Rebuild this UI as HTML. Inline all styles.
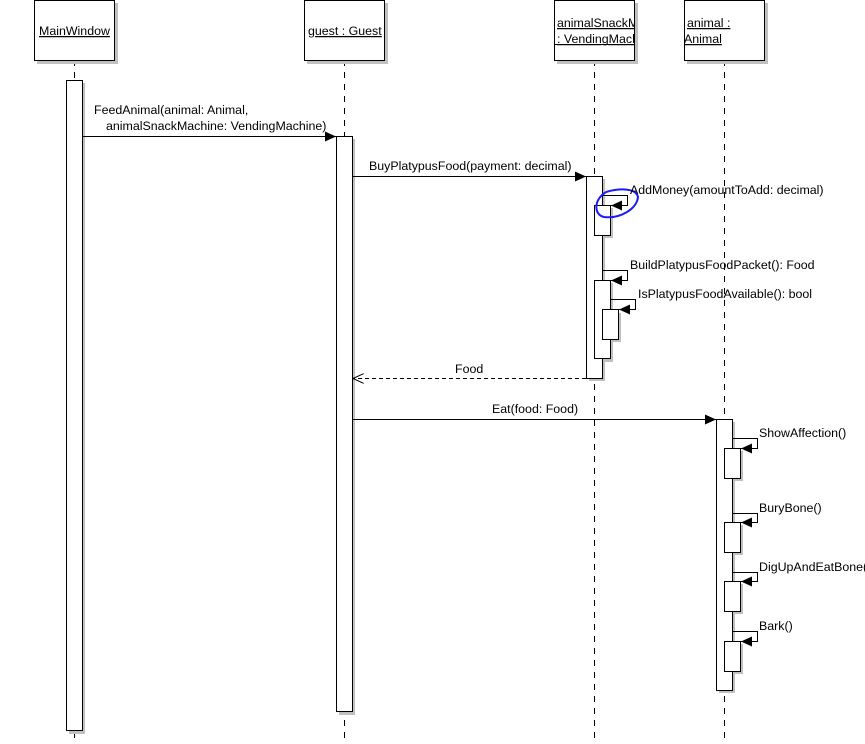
<!DOCTYPE html>
<html><head><meta charset="utf-8"><style>
html,body{margin:0;padding:0;background:#fff;}
svg{display:block;}
text{font-family:"Liberation Sans",Arial,sans-serif;font-size:12.4px;fill:#000;}
</style></head><body>
<svg width="865" height="744" viewBox="0 0 865 744" xmlns="http://www.w3.org/2000/svg">
<defs>
<marker id="f" markerWidth="12" markerHeight="10" refX="11" refY="5" orient="auto" markerUnits="userSpaceOnUse"><path d="M0,0 L11,5 L0,10 z" fill="#000"/></marker>
<marker id="o" markerWidth="12" markerHeight="10" refX="11" refY="5" orient="auto" markerUnits="userSpaceOnUse"><path d="M0,0 L11,5 L0,10" fill="none" stroke="#000"/></marker>
</defs>
<g stroke="#000" stroke-width="1" stroke-dasharray="6,6">
<line x1="74.5" y1="60" x2="74.5" y2="744"/>
<line x1="344.5" y1="60" x2="344.5" y2="744"/>
<line x1="594.5" y1="60" x2="594.5" y2="744"/>
<line x1="724.5" y1="60" x2="724.5" y2="744"/>
</g>
<g fill="#c0c0c0">
<rect x="37" y="3" width="81" height="61"/><rect x="307" y="3" width="81" height="61"/>
<rect x="557" y="3" width="81" height="61"/><rect x="687" y="3" width="81" height="61"/>
</g>
<g fill="#fff" stroke="#000">
<rect x="34.5" y="0.5" width="80" height="60"/><rect x="304.5" y="0.5" width="80" height="60"/>
<rect x="554.5" y="0.5" width="80" height="60"/><rect x="684.5" y="0.5" width="80" height="60"/>
</g>
<line x1="554" y1="44.5" x2="634" y2="44.5" stroke="#000"/>
<text x="39" y="35" text-decoration="underline">MainWindow</text>
<text x="308" y="35" text-decoration="underline">guest : Guest</text>
<svg x="555" y="0" width="79" height="60"><text x="2" y="27" text-decoration="underline">animalSnackMachine</text><text x="2" y="43" text-decoration="underline">: VendingMachine</text></svg>
<svg x="685" y="0" width="79" height="60"><text x="2" y="27" text-decoration="underline">animal :</text><text x="-1" y="43" text-decoration="underline">Animal</text></svg>
<g fill="#c0c0c0">
<rect x="69" y="83" width="16" height="651"/>
<rect x="339" y="139" width="16" height="576"/>
<rect x="589" y="179" width="16" height="202"/>
<rect x="597" y="208" width="16" height="30"/>
<rect x="597" y="283" width="16" height="79"/>
<rect x="605" y="313" width="16" height="29"/>
<rect x="719" y="422" width="16" height="271"/>
<rect x="727" y="451" width="16" height="30"/>
<rect x="727" y="525" width="16" height="30"/>
<rect x="727" y="584" width="16" height="30"/>
<rect x="727" y="644" width="16" height="30"/>
</g>
<g fill="#fff" stroke="#000">
<rect x="66.5" y="80.5" width="16" height="650"/>
<rect x="336.5" y="136.5" width="16" height="575"/>
<rect x="586.5" y="176.5" width="16" height="202"/>
<rect x="594.5" y="205.5" width="16" height="30"/>
<rect x="594.5" y="280.5" width="16" height="78"/>
<rect x="602.5" y="309.5" width="16" height="30"/>
<rect x="716.5" y="419.5" width="16" height="271"/>
<rect x="724.5" y="448.5" width="16" height="30"/>
<rect x="724.5" y="522.5" width="16" height="30"/>
<rect x="724.5" y="581.5" width="16" height="30"/>
<rect x="724.5" y="641.5" width="16" height="30"/>
</g>
<g stroke="#000" fill="none">
<line x1="83" y1="136.5" x2="336" y2="136.5" marker-end="url(#f)"/>
<line x1="353" y1="176.5" x2="586" y2="176.5" marker-end="url(#f)"/>
<line x1="586" y1="378.5" x2="353" y2="378.5" stroke-dasharray="4,3" marker-end="url(#o)"/>
<line x1="353" y1="419.5" x2="716" y2="419.5" marker-end="url(#f)"/>
<polyline points="603,195.5 627.5,195.5 627.5,205.5 611,205.5" marker-end="url(#f)"/>
<polyline points="603,270.5 627.5,270.5 627.5,280.5 611,280.5" marker-end="url(#f)"/>
<polyline points="611,299.5 635.5,299.5 635.5,309.5 619,309.5" marker-end="url(#f)"/>
<polyline points="733,438.5 757.5,438.5 757.5,448.5 741,448.5" marker-end="url(#f)"/>
<polyline points="733,513.5 757.5,513.5 757.5,522.5 741,522.5" marker-end="url(#f)"/>
<polyline points="733,572.5 757.5,572.5 757.5,581.5 741,581.5" marker-end="url(#f)"/>
<polyline points="733,631.5 757.5,631.5 757.5,641.5 741,641.5" marker-end="url(#f)"/>
</g>
<path d="M606,192 C620,188 636,188 638,197 C637,209 620,219 604,217 C594,215 593,200 606,192" fill="none" stroke="#1a1aff" stroke-width="2"/>
<text x="94" y="114">FeedAnimal(animal: Animal,</text>
<text x="106" y="130">animalSnackMachine: VendingMachine)</text>
<text x="369" y="170">BuyPlatypusFood(payment: decimal)</text>
<text x="630" y="194">AddMoney(amountToAdd: decimal)</text>
<text x="630" y="269">BuildPlatypusFoodPacket(): Food</text>
<text x="638" y="298">IsPlatypusFoodAvailable(): bool</text>
<text x="455" y="373">Food</text>
<text x="492" y="413">Eat(food: Food)</text>
<text x="759" y="437">ShowAffection()</text>
<text x="759" y="512">BuryBone()</text>
<text x="759" y="571">DigUpAndEatBone()</text>
<text x="759" y="630">Bark()</text>
</svg>
</body></html>
